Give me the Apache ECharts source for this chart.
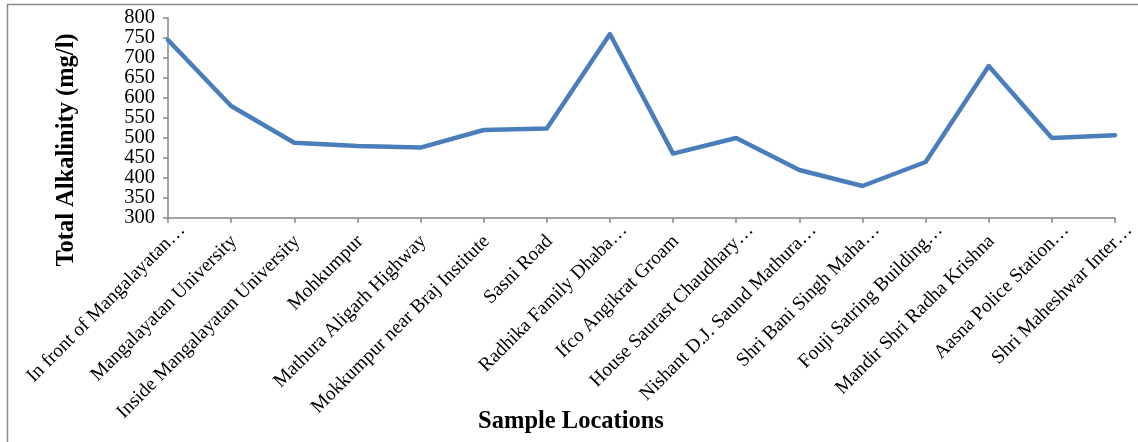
<!DOCTYPE html>
<html>
<head>
<meta charset="utf-8">
<title>Total Alkalinity by Sample Location</title>
<script src="https://cdn.jsdelivr.net/npm/echarts@6/dist/echarts.min.js"></script>
<style>
  html, body { margin: 0; padding: 0; background: #ffffff; }
  #chart { width: 1138px; height: 442px; }
</style>
</head>
<body>
<div id="chart"></div>
<script>
// Sampling sites along the route
const locations = [
  'In front of Mangalayatan…',
  'Mangalayatan University',
  'Inside Mangalayatan University',
  'Mohkumpur',
  'Mathura Aligarh Highway',
  'Mokkumpur near Braj Institute',
  'Sasni Road',
  'Radhika Family Dhaba…',
  'Ifco Angikrat Groam',
  'House Saurast Chaudhary…',
  'Nishant D.J. Saund Mathura…',
  'Shri Bani Singh Maha…',
  'Fouji Satring Building…',
  'Mandir Shri Radha Krishna',
  'Aasna Police Station…',
  'Shri Maheshwar Inter…'
];

// Total alkalinity (mg/l) measured at each site
const alkalinity = [745, 580, 488, 480, 476, 520, 524, 760, 461, 500, 420, 380, 440, 680, 500, 507];

// Value axis range and its labelled ticks
const yMin = 300;
const yMax = 800;
const yStep = 50;
const yTicks = [300, 350, 400, 450, 500, 550, 600, 650, 700, 750, 800];

// The labels are packed tightly, so they are split over two coincident axes
// (hundreds on one, fifties on the other) to keep every one of them visible.
const yTicksHundreds = yTicks.filter(v => v % 100 === 0);
const yTicksFifties = yTicks.filter(v => v % 100 !== 0);

const serif = '"Liberation Serif", "Times New Roman", serif';
const axisGray = '#868686';

const labelFont = { color: '#000000', fontFamily: serif, fontSize: 19.5 };
const valueFont = { color: '#000000', fontFamily: serif, fontSize: 20.5 };

function valueAxis(labelValues, showLine) {
  return {
    type: 'value',
    position: 'left',
    offset: 0,
    min: yMin,
    max: yMax,
    interval: yStep,
    axisLine: { show: showLine, lineStyle: { color: axisGray, width: 1.5 } },
    axisTick: {
      show: showLine,
      inside: false,
      length: 5,
      customValues: yTicks,
      lineStyle: { color: axisGray, width: 1.5 }
    },
    axisLabel: {
      margin: 13,
      customValues: labelValues,
      showMinLabel: true,
      showMaxLabel: true,
      hideOverlap: false,
      ...valueFont
    },
    splitLine: { show: false }
  };
}

const chart = echarts.init(document.getElementById('chart'), null, { renderer: 'canvas' });

chart.setOption({
  animation: false,
  backgroundColor: '#ffffff',
  grid: { left: 168, right: 23, top: 18, bottom: 224, containLabel: false, outerBoundsMode: 'none' },
  xAxis: {
    type: 'category',
    data: locations,
    boundaryGap: false,
    axisLine: { show: true, lineStyle: { color: axisGray, width: 1.5 } },
    axisTick: { show: true, inside: false, length: 5, interval: 0, lineStyle: { color: axisGray, width: 1.5 } },
    axisLabel: {
      interval: 0,
      rotate: 45,
      margin: -5,
      align: 'right',
      verticalAlign: 'top',
      lineHeight: 40,
      ...labelFont,
      hideOverlap: false,
      // truncated names sit flush with the tick; full names get a little trailing room
      formatter: function (name) {
        return name.endsWith('…') ? '{t|' + name + '}' : '{t|' + name + '}{gap| }';
      },
      rich: {
        t: { ...labelFont, lineHeight: 40 },
        gap: { ...labelFont, lineHeight: 40, width: 16 }
      }
    },
    splitLine: { show: false }
  },
  yAxis: [
    valueAxis(yTicksHundreds, true),
    valueAxis(yTicksFifties, false)
  ],
  series: [{
    type: 'line',
    yAxisIndex: 0,
    data: alkalinity,
    symbol: 'none',
    lineStyle: { color: '#4a7ebb', width: 4.5, join: 'round', cap: 'round' },
    itemStyle: { color: '#4a7ebb' }
  }],
  graphic: [
    // frame (left and top edges)
    {
      type: 'polyline',
      shape: { points: [[7.5, 442], [7.5, 4.5], [1138, 4.5]] },
      style: { stroke: '#8c8c8c', lineWidth: 1.5, fill: null },
      silent: true
    },
    {
      type: 'text',
      x: 67,
      y: 150,
      rotation: Math.PI / 2,
      style: {
        text: 'Total Alkalinity (mg/l)',
        font: 'bold 24.5px ' + serif,
        fill: '#000000',
        align: 'center',
        verticalAlign: 'middle'
      }
    },
    {
      type: 'text',
      x: 571,
      y: 422,
      style: {
        text: 'Sample Locations',
        font: 'bold 24.5px ' + serif,
        fill: '#000000',
        align: 'center',
        verticalAlign: 'middle'
      }
    }
  ]
});
</script>
</body>
</html>
